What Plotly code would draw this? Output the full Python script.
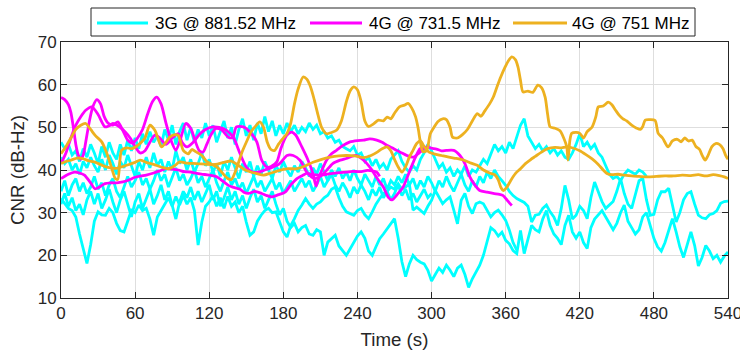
import plotly.graph_objects as go

# ---------------------------------------------------------------------------
# 3G @ 881.52 MHz runs, sampled every 3 s (CNR in dB-Hz)
# ---------------------------------------------------------------------------
STEP_3G = 3

umts_run1 = [46.5, 45.0, 46.0, 43.5, 44.5, 42.0, 45.0, 43.0, 46.0, 44.0, 41.5, 45.5, 43.0, 46.5, 44.0,
             42.5, 46.0, 43.5, 47.0, 44.5, 47.5, 45.0, 48.5, 46.0, 49.0, 46.5, 48.0, 45.5, 49.5, 47.0,
             50.5, 46.0, 49.0, 51.0, 47.0, 50.0, 46.5, 49.5, 47.5, 51.0, 48.0, 50.5, 46.5, 49.0, 51.5,
             47.5, 50.0, 46.0, 49.5, 52.0, 48.0, 50.5, 47.0, 51.0, 48.5, 52.5, 49.0, 51.5, 48.0, 50.5,
             48.5, 51.0, 49.0, 50.5, 48.5, 50.0, 49.0, 51.0, 49.5, 50.5, 48.5, 49.0, 47.5, 48.0, 46.5,
             47.0, 45.5, 45.0, 44.5, 45.5, 43.5, 44.0, 42.0, 43.0, 41.0, 42.5, 40.5, 41.5, 40.0, 42.5,
             43.5, 44.5, 42.0, 40.5, 39.5, 41.0, 40.0, 42.5, 44.0, 46.0, 44.5, 42.5, 40.5, 41.5, 39.5,
             40.5, 38.5, 40.0, 39.0, 41.0, 38.5, 40.0, 39.5, 41.0, 42.5, 41.5, 44.0, 46.0, 44.5, 45.5,
             44.0, 46.5, 45.0, 48.0, 50.5, 52.0, 48.0, 46.5, 45.0, 46.0, 44.5, 45.5, 44.0, 45.0, 43.5,
             44.5, 43.0, 42.5, 44.0, 46.0, 48.5, 45.5, 46.5, 45.0, 46.0, 44.0, 43.0, 41.0, 39.0, 38.0,
             38.5, 37.5, 39.0, 40.0, 39.5, 39.0, 40.0, 39.5, 38.5]

umts_run2 = [43.0, 41.5, 42.5, 40.0, 41.5, 39.0, 42.0, 40.5, 43.0, 41.0, 39.5, 42.5, 40.0, 43.5, 41.5,
             39.0, 42.0, 40.5, 43.5, 41.0, 38.5, 42.0, 40.0, 43.0, 40.5, 44.0, 41.0, 42.5, 39.5, 42.0,
             40.0, 44.5, 41.5, 43.0, 40.0, 42.5, 39.5, 41.5, 44.0, 41.0, 42.5, 39.5, 41.5, 38.5, 42.0,
             40.0, 43.0, 40.5, 38.0, 41.5, 39.5, 42.0, 38.5, 41.0, 39.0, 42.0, 40.0, 38.0, 41.0, 39.5,
             42.0, 40.0, 38.5, 41.0, 39.5, 42.0, 40.5, 38.5, 40.5, 39.0, 41.5, 39.5, 37.5, 40.0, 38.5,
             40.5, 38.0, 39.5, 37.5, 40.0, 38.0, 36.5, 39.0, 37.5, 36.0, 38.5, 36.5, 38.0, 35.5, 37.5,
             36.5, 38.5, 37.0, 39.0, 36.5, 38.0, 35.5, 37.5, 36.0, 38.5, 37.0, 35.0, 37.5, 36.0, 38.5,
             36.5, 35.0, 37.0, 39.0, 36.5, 35.0, 37.5, 36.0, 38.5, 37.0, 39.5, 38.0, 40.0, 38.5, 37.5,
             36.4, 35.0, 34.0, 33.3, 32.8, 32.4, 31.5, 27.8, 29.4, 29.6, 31.0, 31.8, 30.2, 29.0, 27.0,
             31.0, 36.4, 33.0, 28.5, 29.4, 31.5, 30.5, 28.6, 33.5, 37.2, 34.9, 32.6, 31.0, 31.8, 32.6,
             35.0, 38.0, 34.5, 32.0, 31.0, 34.0, 37.5, 38.0, 33.0, 29.4, 29.6, 33.0, 34.9, 34.9, 35.7,
             31.8, 27.8, 30.0, 33.0, 34.5, 34.9, 32.0, 29.4, 28.8, 28.6, 29.5, 29.8, 30.5, 32.2, 32.6,
             32.7]

umts_run3 = [35.0, 37.5, 34.0, 36.5, 38.0, 35.0, 37.0, 34.5, 36.0, 38.5, 35.5, 37.0, 34.0, 36.5, 38.0,
             35.0, 33.5, 36.0, 38.5, 36.0, 37.5, 39.5, 36.5, 38.0, 35.5, 37.5, 40.0, 37.5, 39.0, 36.0,
             38.5, 40.5, 37.5, 39.0, 36.5, 38.0, 40.0, 37.0, 38.5, 36.0, 38.0, 40.0, 37.0, 35.0, 37.5,
             39.5, 36.5, 38.0, 35.5, 37.0, 34.5, 36.5, 38.5, 36.0, 37.5, 35.0, 36.5, 38.0, 35.5, 37.0,
             34.5, 36.0, 37.5, 35.0, 36.5, 38.0, 36.0, 37.5, 35.0, 36.5, 38.5, 36.0, 37.5, 39.0, 36.5,
             35.0, 37.0, 35.5, 33.5, 36.0, 34.5, 36.5, 35.0, 33.0, 35.5, 34.0, 36.0, 33.5, 35.0, 33.0,
             34.5, 36.5, 34.0, 35.5, 33.0, 34.5, 32.5, 34.0, 35.5, 33.5, 34.5]

umts_run4 = [32.0, 34.5, 31.5, 33.5, 30.5, 32.0, 29.5, 33.0, 35.0, 32.0, 34.5, 31.0, 33.0, 35.5, 32.5,
             30.0, 33.0, 35.0, 32.0, 29.0, 32.5, 34.5, 31.0, 33.5, 35.5, 32.0, 34.0, 36.5, 33.0, 35.0,
             31.5, 28.5, 32.5, 35.0, 33.5, 36.0, 33.0, 35.0, 32.5, 34.5, 36.5, 33.0, 35.0, 31.5, 33.5,
             36.0, 33.0, 35.0, 32.0, 34.0, 31.0, 33.5, 35.5, 32.5, 34.0, 31.0, 33.0, 35.0, 32.0, 29.5,
             31.0, 28.0, 26.5, 27.5, 25.5, 26.5, 27.0, 25.0, 24.7, 26.0, 25.5, 20.0, 23.1, 24.0, 24.7,
             22.2, 21.0, 20.0, 21.5, 23.1, 24.5, 25.5, 24.0, 21.0, 20.0, 22.0, 23.9, 25.0, 26.2, 27.5,
             28.6, 24.0, 18.5, 15.0, 18.0, 20.0, 19.0, 18.4, 18.0, 16.5, 14.0, 15.5, 17.0, 16.0, 17.7,
             16.5, 15.0, 17.0, 17.7, 15.5, 12.5, 14.5, 16.0, 17.7, 20.0, 23.1, 26.5, 25.8, 24.5, 25.4,
             23.5, 22.7, 21.1, 20.4, 25.8, 20.4, 24.0, 27.0, 26.0, 25.5, 28.5, 30.5, 27.0, 25.0, 24.0,
             22.5, 27.0, 29.4, 25.5, 24.0, 25.5, 23.0, 21.6, 26.5, 28.5, 29.4, 30.5, 29.0, 27.5, 26.0,
             27.5, 30.0, 31.8, 28.0, 26.5, 25.0, 26.0, 29.0, 30.0, 27.0, 24.0, 22.0, 21.0, 23.0, 26.0,
             28.6, 25.5, 22.0, 19.5, 22.5, 25.5, 22.3, 17.5, 19.5, 22.3, 21.0, 19.2, 20.0, 18.4, 19.8,
             20.8]

umts_run5 = [33.3, 32.0, 31.0, 30.5, 29.0, 25.0, 21.5, 18.1, 22.5, 28.0, 30.2, 29.5, 29.4, 31.0, 30.0,
             27.5, 25.8, 25.5, 28.0, 30.6, 30.0, 31.8, 30.5, 31.0, 28.5, 24.7, 29.0, 30.5, 31.8, 33.5,
             31.5, 33.8, 31.8, 34.0, 32.0, 33.5, 30.5, 22.4, 27.8, 31.5, 32.5, 34.0, 31.5, 33.5, 31.0,
             33.8, 31.5, 32.5, 30.0, 31.5, 27.8, 24.7, 25.5, 28.0, 29.4, 30.5, 31.0, 30.0, 30.2, 27.8,
             25.5, 24.3, 27.0, 28.6, 30.5, 31.8, 33.3, 32.0, 31.0, 32.0, 32.5, 33.5, 34.1, 35.5, 36.0,
             33.5, 31.5, 30.2, 29.8, 29.4, 30.5, 31.0, 29.5, 28.6, 30.2, 32.0, 33.3, 34.5, 35.0, 36.0,
             35.5, 36.8, 35.5, 36.0, 36.8, 30.6, 31.3, 30.5, 29.8, 31.5, 32.9, 35.2, 33.5, 32.1, 33.0,
             33.7, 30.6, 27.4, 32.9, 34.5, 31.5, 29.8, 32.1, 32.5, 32.1, 30.5, 29.0, 30.0, 30.6, 29.5,
             28.2, 25.9, 23.0, 21.2]

# ---------------------------------------------------------------------------
# 4G @ 731.5 MHz runs: (time s, CNR dB-Hz)
# ---------------------------------------------------------------------------
lte731_run1 = [(0, 57), (3, 56.5), (6, 55.3), (8, 53.5), (10, 50), (12, 46), (14, 43.5), (16, 42.5),
               (18, 43.5), (20, 46.5), (23, 51.5), (26, 55), (29, 56.5), (32, 55.5), (35, 52.5),
               (38, 51), (42, 50.5), (46, 51.3), (50, 49.3), (54, 47), (58, 46.3), (62, 47.5),
               (66, 49.5), (70, 53), (74, 56), (77.5, 57.1), (81, 55.5), (85, 51), (89, 47),
               (93, 44.6), (97, 47.5), (101, 50.9), (105, 49.8), (109, 46.5), (112, 44.5),
               (115, 44.2), (118, 46), (121, 48), (125, 49.7), (130, 49.4), (135.5, 47.7),
               (139, 47.6), (142, 50.1), (147.6, 50.1), (153, 48.9), (158.5, 46.6), (162.5, 42.3),
               (166.6, 40.7), (170, 40.8), (174.7, 41.9), (178, 45), (182.7, 48.1), (186.8, 48.9),
               (190, 48.2), (195, 45.4), (200, 42.3), (204, 39.2), (206.5, 36.2), (208.5, 38),
               (212, 40.5), (215, 42.3), (219, 43.8), (223, 44.6), (228, 45.7), (234, 46.6),
               (240, 46.9), (245, 47), (250, 47.3), (255.6, 47), (260, 46.5), (263.7, 45.8),
               (268, 45.2), (271.8, 44.6), (276, 44), (280, 43.4), (285, 43), (290, 44),
               (296, 45.4), (300, 45.1), (304, 44.9), (308, 44.5), (312, 44.6), (318, 44.6),
               (323, 43.4), (327, 41.5), (331, 38.4), (335, 36.5), (339, 35.2), (345, 34.8),
               (350, 34.5), (355, 34.3), (358, 34), (361, 33), (363, 32.3), (365, 31.7)]

lte731_run2 = [(0, 41.5), (4, 44), (8, 47.5), (12, 50.5), (16, 52.5), (20, 54), (25, 54.8), (30, 53),
               (35.6, 50.1), (39, 50.4), (42, 50.9), (47, 50.2), (52, 48.9), (56, 47.5), (60, 45.5),
               (64, 44), (68, 44.5), (72, 46.5), (76, 48.2), (80, 47.5), (85, 46), (90, 47.5),
               (95, 48.5), (98, 46.5), (102, 45.4), (107, 46.5), (112.6, 48.5), (117, 49.5),
               (123, 50.1), (128, 50), (134, 49.3), (139.5, 47.7), (145, 43.8), (150, 40.7),
               (155, 39.5), (160, 39.5), (165, 40), (170, 40.5), (177, 41.5), (183, 43.4),
               (188, 43.4), (193.5, 42.3), (199, 39.5), (205, 38), (212, 39), (220, 41.5),
               (226, 42.3), (231, 42.7), (239, 43.4), (245, 42.3), (251, 40.3), (256, 38), (261, 36),
               (265, 33.6), (268, 33), (272, 34.2), (277, 36), (282.6, 40), (287, 43), (290.7, 45),
               (294, 45.3), (297, 45.3)]

lte731_run3 = [(0, 38), (6, 39), (11, 39.5), (15, 39.3), (19, 38.8), (24, 37), (27.5, 35.6), (31, 36),
               (35.6, 36.8), (40, 37), (45, 37), (50, 37.2), (54.5, 37.6), (60, 38.3), (65, 38.6),
               (69, 38.8), (75, 39.3), (80, 39.8), (85, 40.3), (90, 40.2), (95, 40), (100, 39.6),
               (105, 39.5), (110, 39.2), (115, 39), (120, 38.8), (126, 38.4), (131, 37.4),
               (135.5, 36.4), (139, 36), (145, 35.5), (148, 34.8), (151.7, 34.5), (157, 35),
               (162.5, 34.5), (166.6, 34), (170.6, 33.7), (175, 34.1), (181.4, 34.8), (186, 36.5),
               (191, 38), (196, 38.8), (199, 39.2), (204, 38.9), (209.7, 38.8), (215, 39), (220, 39.2),
               (226, 39.4), (231, 39.5), (236, 39.7), (242, 39.6), (248, 39.9), (252, 39.8),
               (255.6, 39.5), (258, 38.5)]

# ---------------------------------------------------------------------------
# 4G @ 751 MHz runs: (time s, CNR dB-Hz)
# ---------------------------------------------------------------------------
lte751_run1 = [(0, 43.8), (4, 45.5), (8, 47.5), (12, 49.5), (16, 50.5), (20, 50.9), (24, 49.5), (28, 48),
               (33, 46.6), (37, 44), (41, 40.5), (44, 38), (46, 37.8), (49, 44.6), (53, 45.2), (57, 45),
               (61, 45.5), (65, 46.5), (68, 47.5), (72, 50.5), (76, 49.3), (79, 47), (81.5, 45.4),
               (85, 46.5), (88, 47.7), (92, 48.3), (95, 48.1), (99, 44.6), (103, 43.8), (106, 44.8),
               (109, 44.3), (114, 43.4), (118, 42), (123, 41.2), (127, 40.5), (131, 39.2), (135, 38),
               (138, 37.8), (141, 39.5), (144, 42), (147, 44.5), (150, 46.5), (154, 49), (157, 50.1),
               (161, 51.3), (164, 50), (167, 46.5), (170, 44.8), (173, 44.6), (176, 46), (180, 47.5),
               (183, 48.6), (186, 51), (189, 55.5), (192, 59), (196, 61.8), (199, 61.3), (202, 59.5),
               (205, 56.5), (208, 53), (211, 50), (215, 48.5), (219, 48.8), (223, 49.3), (227, 51.5),
               (231, 56), (234, 58.5), (237, 59.5), (240, 58.8), (243, 56), (246, 51.5), (249, 50.2),
               (253, 50.8), (257, 51.7), (261, 51.5), (264, 52.4), (267, 52), (270, 53.3), (274, 54.8),
               (278, 55.2), (281, 55.6), (284, 54.5), (287, 52.5), (289, 50), (291, 46.5), (293, 44.3),
               (296, 44.5), (299, 48.5), (302, 50), (305, 51.3), (309, 52), (312, 51.8), (315, 50),
               (317, 47.7), (321, 47.5), (325, 48.3), (329, 49.5), (333, 51.5), (337, 53.2),
               (340, 52.6), (343, 53.8), (347, 55.5), (350, 57.1), (353, 59.5), (356, 61.8),
               (359.5, 64.1), (362, 65.5), (365, 66.5), (368, 65.8), (370, 64.1), (372, 61),
               (374, 58.3), (378, 58.5), (382, 58.2), (386, 59.9), (389, 59.3), (392, 57), (394, 53),
               (396, 50.1), (400, 49.8), (404, 49.2), (407, 47.5), (409.5, 45.4), (410.5, 42.3),
               (412, 47), (413.5, 48.6), (417, 48.8), (420, 48.6), (423, 47.5), (426, 49), (430, 50.1),
               (433, 52.5), (435, 54.8), (439, 55), (443, 55.9), (446, 55.3), (449, 54), (452, 52.8),
               (455, 52), (458, 51.5), (462, 50.5), (466, 49.8), (469, 49.5), (471, 50.2), (473, 51.7),
               (477, 51.8), (481, 51.6), (483.5, 48.6), (487, 47.5), (491.5, 45.4), (495, 46.8),
               (499, 47.2), (502, 46.6), (505, 47.5), (508, 46.8), (511, 47), (514, 45.5), (517, 44.8),
               (519, 43.5), (521.5, 42.3), (524, 43.5), (527, 45.5), (530, 46.2), (533, 46), (536, 45),
               (538, 43.5), (540, 42.5)]

lte751_run2 = [(0, 41.5), (4, 42), (8, 42.3), (13, 42.8), (17, 42.7), (22, 42.2), (28, 41.8), (34, 41),
               (40, 40.5), (45, 40.4), (50, 40.8), (55, 41.3), (60, 41.8), (64, 42.3), (69, 41.8),
               (75, 41.3), (81, 40.7), (87, 40.3), (92, 41), (96, 41.9), (102, 41.6), (110, 41.5),
               (118, 41.3), (125, 41.3), (132, 41.8), (138, 42.1), (143, 41.2), (148, 40.2),
               (153, 39.6), (158, 39.2), (164, 38.8), (170, 39.3), (177, 39.9), (184, 40.3),
               (191, 40.3), (198, 41), (204, 41.8), (211, 42.5), (218, 43), (225, 43.3), (231, 43.4),
               (238, 43.3), (245, 42.9), (251, 43.4), (256, 44.2), (260, 45), (264, 45.4), (267, 44.5),
               (270, 42.5), (273, 40.7), (276, 39.5), (279, 40.8), (282, 43), (285, 44.6), (288, 46.2),
               (291, 46.8), (294, 45.5), (298, 44.2), (302, 43.8), (308, 43.4), (314, 43), (320, 42.7),
               (326, 42.3), (332, 41.6), (337, 41.1), (342, 40), (347, 39.3), (351, 38.9), (354, 37.7),
               (356, 36), (358, 35.2), (361, 36), (364, 37.5), (368, 39.2), (372, 40.3), (376, 41.5),
               (380, 42.4), (384, 43.2), (389, 44.2), (394, 45), (400, 45.3), (405, 45.2), (410, 45.4),
               (415, 45.1), (420, 44.5), (425, 43.6), (430, 42.6), (435, 41.3), (439, 40), (442, 39.2),
               (446, 38.9), (451, 39), (456, 38.8), (462, 38.6), (468, 38.5), (475, 38.4), (482, 38.5),
               (489, 38.6), (496, 38.6), (503, 38.8), (510, 38.7), (516, 38.9), (522, 38.6),
               (528, 38.9), (533, 38.7), (537, 38.4), (540, 38)]

x_ticks = [0, 60, 120, 180, 240, 300, 360, 420, 480, 540]
y_ticks = [10, 20, 30, 40, 50, 60, 70]

series_names = ["3G @ 881.52 MHz", "4G @ 731.5 MHz", "4G @ 751 MHz"]
CYAN = "#00FFFF"
MAGENTA = "#FF00FF"
ORANGE = "#EDB120"
AXIS_COLOR = "#262626"
FONT = "Liberation Sans, Arial, sans-serif"
LW = 2.8

fig = go.Figure()

for run in [umts_run5, umts_run4, umts_run3, umts_run2, umts_run1]:
    times = [STEP_3G * i for i in range(len(run))]
    fig.add_trace(go.Scatter(x=times, y=run, mode="lines", showlegend=False,
                             line=dict(color=CYAN, width=LW)))

for run in [lte731_run3, lte731_run2, lte731_run1]:
    fig.add_trace(go.Scatter(x=[p[0] for p in run], y=[p[1] for p in run], mode="lines",
                             showlegend=False,
                             line=dict(color=MAGENTA, width=LW, shape="spline", smoothing=0.7)))

for run in [lte751_run2, lte751_run1]:
    fig.add_trace(go.Scatter(x=[p[0] for p in run], y=[p[1] for p in run], mode="lines",
                             showlegend=False,
                             line=dict(color=ORANGE, width=LW, shape="spline", smoothing=0.7)))

# Plot box in pixels: left 61, right 728, top 42, bottom 298
L, R, T, B = 61, 728, 42, 298
W, H = 740, 356


def px(xp):
    return (xp - L) / (R - L)


def py(yp):
    return (B - yp) / (B - T)


# Boxed legend across the top
shapes = [dict(type="rect", xref="paper", yref="paper", x0=px(91), x1=px(695), y0=py(36), y1=py(8),
               line=dict(color=AXIS_COLOR, width=1), fillcolor="white", layer="above")]
legend_items = [(97, 148, 153, CYAN), (310, 362, 367, MAGENTA), (513, 567, 570, ORANGE)]
annotations = []
for (lx0, lx1, tx, col), name in zip(legend_items, series_names):
    shapes.append(dict(type="line", xref="paper", yref="paper", x0=px(lx0), x1=px(lx1),
                       y0=py(23), y1=py(23), line=dict(color=col, width=LW), layer="above"))
    annotations.append(dict(xref="paper", yref="paper", x=px(tx), y=py(23.5), text=name,
                            showarrow=False, xanchor="left", yanchor="middle",
                            font=dict(family=FONT, size=17, color="#000000")))

axis_common = dict(
    showgrid=True, gridcolor="#dedede", gridwidth=1,
    showline=True, linecolor=AXIS_COLOR, linewidth=1, mirror="allticks",
    ticks="inside", ticklen=6, tickwidth=1, tickcolor=AXIS_COLOR,
    zeroline=False, ticklabeloverflow="allow", automargin=False,
    tickfont=dict(family=FONT, size=17, color=AXIS_COLOR),
)

fig.update_layout(
    width=W, height=H,
    margin=dict(l=L, r=W - R, t=T, b=H - B, pad=0, autoexpand=False),
    paper_bgcolor="white", plot_bgcolor="white",
    showlegend=False,
    shapes=shapes, annotations=annotations,
    xaxis=dict(range=[0, 540], tickvals=x_ticks, ticktext=[str(v) for v in x_ticks],
               title=dict(text="Time (s)", standoff=10,
                          font=dict(family=FONT, size=18.7, color=AXIS_COLOR)),
               **axis_common),
    yaxis=dict(range=[10, 70], tickvals=y_ticks, ticktext=[str(v) for v in y_ticks],
               title=dict(text="CNR (dB-Hz)", standoff=8,
                          font=dict(family=FONT, size=18.7, color=AXIS_COLOR)),
               **axis_common),
)

fig.write_html("out.html")
